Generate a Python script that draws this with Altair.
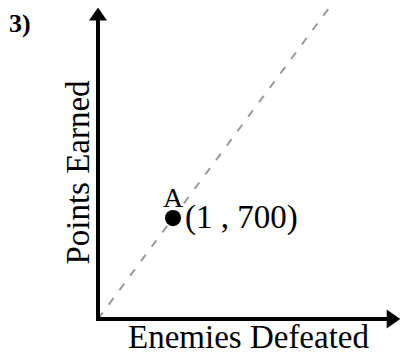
import altair as alt
import pandas as pd

# ---- data ----
point_names = ["A"]
point_x = [1]
point_y = [700]
point_coords = ["(1 , 700)"]
diag_x = [0, 3.07]
diag_y = [0, 2150]
x_title = "Enemies Defeated"
y_title = "Points Earned"
panel_label = "3)"

X_MAX = 4
Y_MAX = 2150
W, H = 300, 310
FONT = "Liberation Serif"

ux = X_MAX / W   # data units per pixel
uy = Y_MAX / H

xs = alt.Scale(domain=[0, X_MAX], nice=False, zero=False)
ys = alt.Scale(domain=[0, Y_MAX], nice=False, zero=False)

ax_x = alt.Axis(title=x_title, domain=False, ticks=False, labels=False, grid=False,
                titleFont=FONT, titleFontSize=33, titleFontWeight="normal",
                titleColor="black", titleY=28, titleBaseline="alphabetic")
ax_y = alt.Axis(title=y_title, domain=False, ticks=False, labels=False, grid=False,
                titleFont=FONT, titleFontSize=33, titleFontWeight="normal",
                titleColor="black", titleX=-10, titleY=163, titleAngle=270,
                titleAlign="center", titleBaseline="alphabetic")

X = alt.X("x:Q", scale=xs, axis=ax_x)
Y = alt.Y("y:Q", scale=ys, axis=ax_y)

pts = pd.DataFrame({"x": point_x, "y": point_y, "name": point_names, "coord": point_coords})
diag = pd.DataFrame({"x": diag_x, "y": diag_y})

AX_END = 3.94  # centre of the right arrowhead
axes_df = pd.DataFrame({
    "x": [-2 * ux, 0], "x2": [AX_END - 2 * ux, 0],
    "y": [0, -2 * uy], "y2": [0, Y_MAX - 5 * uy],
})
up_df = pd.DataFrame({"x": [0], "y": [Y_MAX - 5 * uy]})
right_df = pd.DataFrame({"x": [AX_END], "y": [0]})

diag_layer = alt.Chart(diag).mark_line(color="#999999", strokeWidth=2, strokeDash=[8, 10]).encode(x=X, y=Y)
axes_layer = alt.Chart(axes_df).mark_rule(color="black", strokeWidth=4).encode(
    x=X, y=Y, x2=alt.X2("x2"), y2=alt.Y2("y2"))
up_layer = alt.Chart(up_df).mark_point(
    shape="M0,-0.72L1,0.72L-1,0.72Z", size=324, filled=True, color="black", opacity=1
).encode(x=X, y=Y)
right_layer = alt.Chart(right_df).mark_point(
    shape="M0.72,0L-0.72,1L-0.72,-1Z", size=361, filled=True, color="black", opacity=1
).encode(x=X, y=Y)
dot_layer = alt.Chart(pts).mark_circle(size=260, color="black", opacity=1).encode(x=X, y=Y)
name_layer = alt.Chart(pts).mark_text(font=FONT, fontSize=28, dy=-11, align="center",
                                      baseline="alphabetic", color="black").encode(x=X, y=Y, text="name:N")
coord_layer = alt.Chart(pts).mark_text(font=FONT, fontSize=33, dx=12, dy=10, align="left",
                                       baseline="alphabetic", color="black").encode(x=X, y=Y, text="coord:N")

chart = alt.layer(diag_layer, axes_layer, up_layer, right_layer, dot_layer, name_layer, coord_layer).properties(
    width=W, height=H,
    padding={"left": 90, "top": 1, "right": 3, "bottom": 37},
    autosize=alt.AutoSizeParams(type="none"),
    background="white",
    title=alt.TitleParams(text=panel_label, anchor="start", frame="group", font=FONT,
                          fontSize=26, fontWeight="bold", color="black",
                          baseline="alphabetic", offset=0, dx=-89, dy=53),
).configure_view(stroke=None)

chart.save("out.html", embed_options={"renderer": "svg", "actions": False})
